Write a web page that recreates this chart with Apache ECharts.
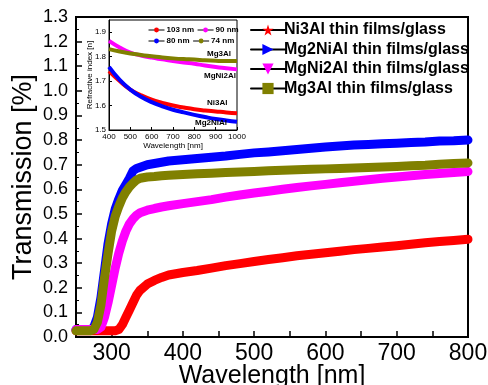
<!DOCTYPE html>
<html><head><meta charset="utf-8">
<script src="https://cdn.jsdelivr.net/npm/echarts@6/dist/echarts.min.js"></script>
<style>html,body{margin:0;padding:0;background:#fff}#c{width:488px;height:385px}</style>
</head><body><div id="c"></div>
<script>
// ---- main chart data ----
const wavelength = [250,260,270,275,280,285,290,295,300,305,310,315,320,325,330,335,340,350,360,370,380,400,420,440,460,480,500,520,540,560,580,600,620,640,660,680,700,720,740,760,780,800];
const ni3al   = [0.025,0.025,0.025,0.025,0.025,0.025,0.025,0.025,0.025,0.025,0.03,0.05,0.08,0.11,0.14,0.17,0.19,0.215,0.23,0.242,0.252,0.262,0.27,0.28,0.29,0.298,0.307,0.315,0.322,0.33,0.336,0.342,0.348,0.355,0.36,0.366,0.371,0.377,0.383,0.388,0.392,0.397];
const mg2nial = [0.03,0.03,0.03,0.04,0.08,0.16,0.27,0.38,0.46,0.52,0.56,0.595,0.62,0.645,0.675,0.685,0.69,0.70,0.705,0.71,0.715,0.72,0.725,0.73,0.735,0.742,0.748,0.752,0.757,0.762,0.767,0.772,0.776,0.78,0.782,0.785,0.787,0.79,0.792,0.796,0.797,0.80];
const mgni2al = [0.03,0.03,0.03,0.03,0.03,0.04,0.08,0.14,0.21,0.28,0.34,0.39,0.43,0.46,0.48,0.495,0.505,0.515,0.522,0.528,0.533,0.542,0.55,0.558,0.568,0.577,0.585,0.592,0.60,0.607,0.614,0.62,0.627,0.633,0.639,0.645,0.65,0.655,0.66,0.664,0.668,0.672];
const mg3al   = [0.025,0.025,0.025,0.03,0.06,0.13,0.24,0.34,0.43,0.49,0.53,0.565,0.59,0.61,0.625,0.638,0.645,0.65,0.652,0.655,0.657,0.66,0.663,0.665,0.668,0.67,0.672,0.675,0.677,0.679,0.681,0.683,0.685,0.687,0.689,0.691,0.693,0.696,0.698,0.702,0.705,0.707];
const mainNames = ['Ni3Al thin films/glass','Mg2NiAl thin films/glass','MgNi2Al thin films/glass','Mg3Al thin films/glass'];
// ---- inset data ----
const insetWl = [400,450,500,550,600,650,700,750,800,850,900,950,1000];
const nNi3al   = [1.741,1.70,1.665,1.642,1.624,1.611,1.600,1.592,1.585,1.580,1.576,1.572,1.569];
const nMg2nial = [1.758,1.705,1.665,1.636,1.614,1.597,1.583,1.572,1.562,1.553,1.545,1.539,1.534];
const nMgni2al = [1.865,1.838,1.817,1.805,1.796,1.789,1.782,1.776,1.771,1.764,1.758,1.753,1.748];
const nMg3al   = [1.831,1.821,1.813,1.807,1.802,1.797,1.793,1.790,1.788,1.785,1.783,1.782,1.782];
const insetNames = ['103 nm','90 nm','80 nm','74 nm'];
const insetLabels = ['Mg3Al','MgNi2Al','Ni3Al','Mg2NiAl'];

const colors = ['#ff0000','#0000ff','#ff00ff','#808000'];
const star = 'path://M50,0L61.8,35.3L100,35.3L69.1,57.1L80.9,92.7L50,70.5L19.1,92.7L30.9,57.1L0,35.3L38.2,35.3Z';
const triR = 'path://M0,0L100,50L0,100Z';
const triD = 'path://M0,0L100,0L50,100Z';
const sq = 'rect';
const symbols = [star, triR, triD, sq];

const pair = (xs, ys) => xs.map((x,i)=>[x, ys[i]]);
const mainData = [ni3al, mg2nial, mgni2al, mg3al];
const insetData = [nNi3al, nMgni2al, nMg2nial, nMg3al];
const insetColors = ['#ff0000','#ff00ff','#0000ff','#808000'];

const series = [];
mainData.forEach((d,i)=>{
  series.push({type:'line', name: mainNames[i], xAxisIndex:0, yAxisIndex:0, data: pair(wavelength,d),
    symbol: symbols[i], symbolSize: 0, showSymbol:false, color: colors[i],
    lineStyle:{width:9, color: colors[i], join:'round', cap:'round'}, itemStyle:{color: colors[i]}, z: 2 + (i===1?0:i), animation:false});
});
insetData.forEach((d,i)=>{
  series.push({type:'line', name: insetNames[i], xAxisIndex:1, yAxisIndex:1, data: pair(insetWl,d),
    symbol:'circle', symbolSize:0, showSymbol:false, smooth:true, color: insetColors[i],
    lineStyle:{width:4, color: insetColors[i]}, itemStyle:{color: insetColors[i]}, z: 20, animation:false});
});

const chart = echarts.init(document.getElementById('c'), null, {renderer:'canvas'});
const font = 'Arial, "Liberation Sans", sans-serif';
chart.setOption({
  animation:false,
  backgroundColor:'#fff',
  grid:[
    {left:76, right:20, top:17, bottom:48, show:true, borderColor:'#000', borderWidth:2, backgroundColor:'transparent', outerBoundsMode:'none', containLabel:false},
    {left:109, right:251, top:20, bottom:255, show:true, borderColor:'#000', borderWidth:1, backgroundColor:'#fff', z:10, outerBoundsMode:'none', containLabel:false}
  ],
  xAxis:[
    {type:'value', gridIndex:0, min:250, max:800, interval:50,
     axisLine:{lineStyle:{color:'#000', width:2}},
     axisTick:{inside:true, length:6, lineStyle:{color:'#000', width:1.5}},
     axisLabel:{color:'#000', fontSize:23, fontFamily:font, margin:5, formatter:v=> (v%100===0 ? String(v) : '')},
     splitLine:{show:false},
     name:'Wavelength [nm]', nameLocation:'middle', nameGap:27, nameMoveOverlap:false, nameTextStyle:{color:'#000', fontSize:25, fontFamily:font}},
    {type:'value', gridIndex:1, min:400, max:1000, interval:100, z:11,
     axisLine:{lineStyle:{color:'#000', width:1}},
     axisTick:{inside:true, length:3, lineStyle:{color:'#000'}},
     axisLabel:{color:'#000', fontSize:8, fontFamily:font, margin:3, formatter:v=>String(v)},
     splitLine:{show:false},
     name:'Wavelength [nm]', nameLocation:'middle', nameGap:12, nameMoveOverlap:false, nameTextStyle:{color:'#000', fontSize:8, fontFamily:font}}
  ],
  yAxis:[
    {type:'value', gridIndex:0, min:0, max:1.3, interval:0.1,
     axisLine:{lineStyle:{color:'#000', width:2}},
     axisTick:{inside:true, length:6, lineStyle:{color:'#000', width:1.5}},
     minorTick:{show:true, splitNumber:2, length:3, lineStyle:{color:'#000'}},
     axisLabel:{color:'#000', fontSize:18, fontFamily:font, margin:8, formatter:v=>v.toFixed(1)},
     splitLine:{show:false},
     name:'Transmission [%]', nameLocation:'middle', nameGap:39, nameMoveOverlap:false, nameTextStyle:{color:'#000', fontSize:27, fontFamily:font}},
    {type:'value', gridIndex:1, min:1.5, max:1.95, interval:0.1, z:11,
     axisLine:{lineStyle:{color:'#000', width:1}},
     axisTick:{inside:true, length:3, lineStyle:{color:'#000'}},
     axisLabel:{color:'#000', fontSize:8, fontFamily:font, margin:3, showMaxLabel:false, formatter:v=> v<=1.9001 ? v.toFixed(1) : ''},
     splitLine:{show:false},
     name:'Refractive index [n]', nameLocation:'middle', nameGap:15, nameMoveOverlap:false, nameTextStyle:{color:'#000', fontSize:8, fontFamily:font}}
  ],
  legend:[
    {data: mainNames, orient:'vertical', left:245, top:17, itemWidth:34, itemHeight:14, itemGap:3.5,
     textStyle:{color:'#000', fontSize:16, fontWeight:'bold', fontFamily:font, padding:[0,0,0,-6]},
     lineStyle:{color:'#000', width:2}, z:30},
    {data: insetNames, orient:'horizontal', left:143, top:21, width:95, itemWidth:16, itemHeight:6, itemGap:3,
     textStyle:{color:'#000', fontSize:8, fontWeight:'bold', fontFamily:font, padding:[0,0,0,-3]},
     lineStyle:{color:'#000', width:1}, z:30}
  ],
  graphic:[
    {type:'text', left:207, top:50, z:40, style:{text:insetLabels[0], fill:'#000', font:'bold 8px Arial'}},
    {type:'text', left:204, top:72, z:40, style:{text:insetLabels[1], fill:'#000', font:'bold 8px Arial'}},
    {type:'text', left:207, top:99, z:40, style:{text:insetLabels[2], fill:'#000', font:'bold 8px Arial'}},
    {type:'text', left:195, top:119, z:40, style:{text:insetLabels[3], fill:'#000', font:'bold 8px Arial'}}
  ],
  series: series
});
</script></body></html>
